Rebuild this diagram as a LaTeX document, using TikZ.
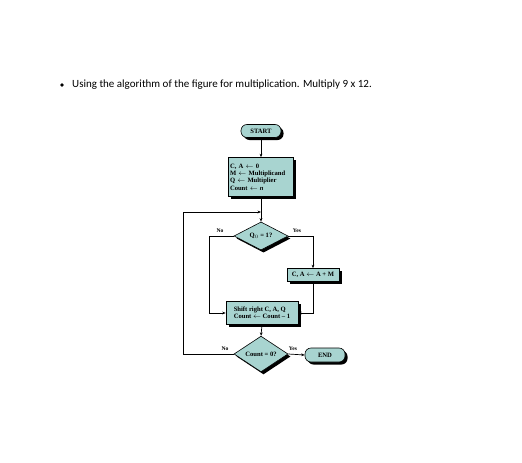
\documentclass[tikz,border=0pt]{standalone}
\usepackage{fontspec}
\setmainfont{Liberation Serif}
\newfontfamily\calibri{Carlito}
\usetikzlibrary{shapes.geometric,shadows,arrows.meta}
\definecolor{boxfill}{RGB}{168,212,208}
\tikzset{
  flow/.style={draw,fill=boxfill,line width=0.6pt,font=\fontsize{6.6}{7.3}\selectfont\bfseries,
    drop shadow={shadow xshift=2.5pt,shadow yshift=-2.5pt,fill=black,opacity=1}},
  procbox/.style={flow,rectangle,inner sep=1.2pt},
  termbox/.style={flow,rectangle,rounded corners=6pt},
  testbox/.style={flow,diamond,inner sep=0pt},
  arr/.style={-{Stealth[length=3.5pt,width=2.8pt]},line width=0.7pt},
  lbl/.style={font=\fontsize{5.6}{6}\selectfont\bfseries}
}
\begin{document}
\begin{tikzpicture}[x=1pt,y=-1pt]
\useasboundingbox (0,0) rectangle (522,463);
\fill (62,85) circle (1.8pt);
\node[anchor=west,inner sep=0pt,font=\calibri\fontsize{11}{13}\selectfont] (task) at (72,85)
  {Using the algorithm of the figure for multiplication. Multiply 9 x 12.};
% flowchart
\node[termbox,minimum width=40pt,minimum height=13pt] (start) at (261,131) {START};
\node[procbox,minimum width=65pt,minimum height=39pt,align=left,text width=62pt] (init) at (261,177)
  {C, A $\leftarrow$ 0\\M $\leftarrow$ Multiplicand\\Q $\leftarrow$ Multiplier\\Count $\leftarrow$ \textit{n}};
\node[testbox,minimum width=54pt,minimum height=24pt] (qtest) at (261,236) {Q$_0$ = 1?};
\node[procbox,minimum width=52pt,minimum height=13pt] (add) at (313,275) {C, A $\leftarrow$ A + M};
\node[procbox,minimum width=72pt,minimum height=23pt,align=left] (shift) at (262,313)
  {Shift right C, A, Q\\Count $\leftarrow$ Count -- 1};
\node[testbox,minimum width=54pt,minimum height=22pt] (ctest) at (261,354) {Count = 0?};
\node[termbox,minimum width=40pt,minimum height=14pt] (finish) at (325,355) {END};
\coordinate (merge) at (261,212);
\draw[arr] (start) -- (init);
\draw[line width=0.7pt] (init.south) -- (merge);
\draw[arr] (merge) -- (qtest.north);
\draw[arr] (qtest.west) -- (209,236) |- (shift.west);
\draw[arr] (qtest.east) -| (add.north);
\draw[arr] (add.south) |- (shift.east);
\draw[arr] (shift.south) -- (ctest.north);
\draw[arr] (ctest.east) -- (finish.west);
\draw[arr] (ctest.west) -- (183,354) |- (merge);
\node[lbl] (qno) at (220,231) {No};
\node[lbl] (qyes) at (297,231) {Yes};
\node[lbl] (cno) at (225,349) {No};
\node[lbl] (cyes) at (293,349) {Yes};
\end{tikzpicture}
\end{document}
